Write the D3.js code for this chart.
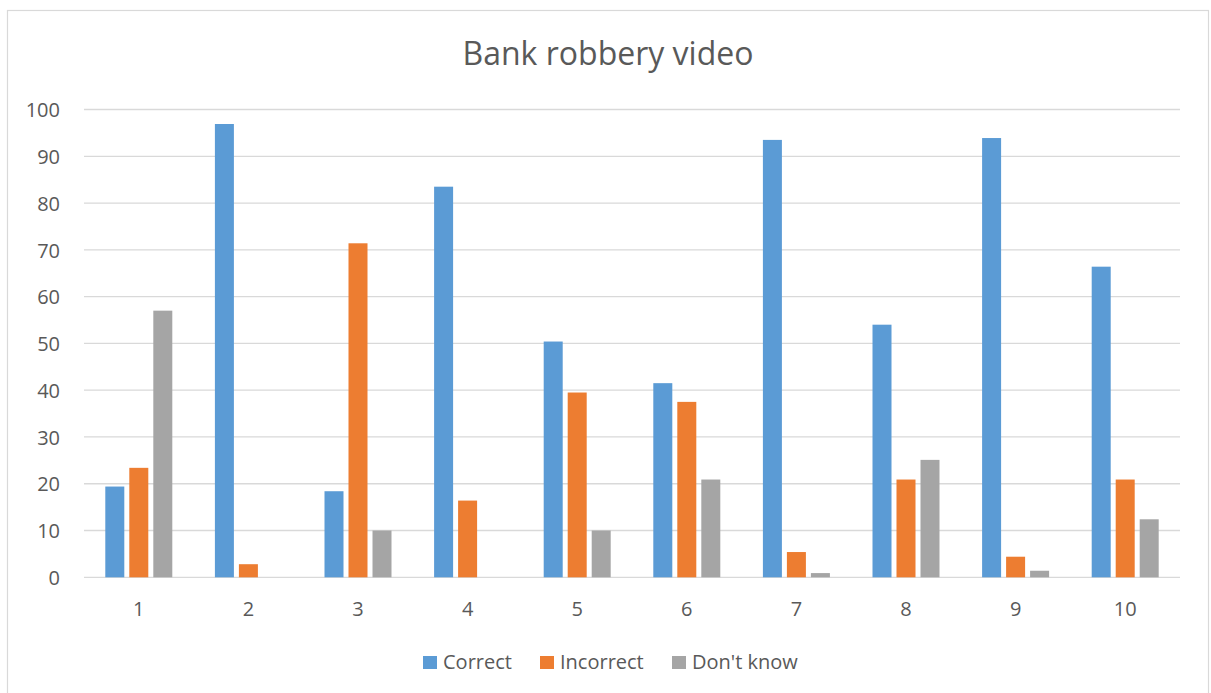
<!DOCTYPE html>
<html>
<head>
<meta charset="utf-8">
<script src="https://cdn.jsdelivr.net/npm/d3@7"></script>
<style>
  html, body { margin: 0; padding: 0; background: #fff; }
  svg { display: block; }
  text { font-family: "Open Sans", "Liberation Sans", sans-serif; fill: #595959; }
</style>
</head>
<body>
<svg id="chart" width="1211" height="693"></svg>
<script>
const categories = ["1","2","3","4","5","6","7","8","9","10"];
const seriesNames = ["Correct","Incorrect","Don't know"];
const correct   = [19.4, 96.9, 18.4, 83.5, 50.4, 41.5, 93.5, 54.0, 93.9, 66.4];
const incorrect = [23.4,  2.8, 71.4, 16.4, 39.5, 37.5,  5.4, 20.9,  4.4, 20.9];
const dontKnow  = [57.0,  0.0, 10.0,  0.0, 10.0, 20.9,  0.9, 25.1,  1.4, 12.4];
const yTicks = [0,10,20,30,40,50,60,70,80,90,100];
const colors = ["#5B9BD5","#ED7D31","#A5A5A5"];
const title = "Bank robbery video";

const seriesValues = [correct, incorrect, dontKnow];
const svg = d3.select("#chart");

// outer chart border
svg.append("rect").attr("x",7.5).attr("y",10.5).attr("width",1201).attr("height",700)
  .attr("fill","none").attr("stroke","#d9d9d9").attr("stroke-width",1.2);

const plot = {left:84, right:1180, top:109.5, bottom:577.3};

const x0 = d3.scaleBand().domain(categories).range([plot.left, plot.right]).padding(0);
const groupW = 67;
const x1 = d3.scaleBand().domain(seriesNames).range([0, groupW]).paddingInner(5/24).paddingOuter(0);
const y = d3.scaleLinear().domain([0,100]).range([plot.bottom, plot.top]);

// gridlines
svg.append("g").selectAll("line").data(yTicks).join("line")
  .attr("x1", plot.left).attr("x2", plot.right)
  .attr("y1", d => y(d)).attr("y2", d => y(d))
  .attr("stroke", "#d9d9d9").attr("stroke-width", 1.3);

// y axis labels
const yAxis = d3.axisLeft(y).tickValues(yTicks).tickSize(0).tickPadding(0);
const gy = svg.append("g").attr("transform", `translate(60,0)`).call(yAxis);
gy.select(".domain").remove();
gy.selectAll("text").attr("font-size", 20).attr("fill","#595959")
  .style("font-family","'Open Sans', sans-serif").attr("dy","0.36em");

// bars
const groups = svg.append("g").selectAll("g").data(categories).join("g")
  .attr("transform", c => `translate(${x0(c) + (x0.bandwidth() - groupW)/2},0)`);
groups.selectAll("rect").data((c,i) => seriesNames.map((s,j) => ({s, v: seriesValues[j][i], j})))
  .join("rect")
  .attr("x", d => x1(d.s))
  .attr("width", x1.bandwidth())
  .attr("y", d => y(d.v))
  .attr("height", d => y(0) - y(d.v))
  .attr("fill", d => colors[d.j]);

// x axis labels
const xAxis = d3.axisBottom(x0).tickSize(0).tickPadding(0);
const gx = svg.append("g").attr("transform", `translate(0,616)`).call(xAxis);
gx.select(".domain").remove();
gx.selectAll("text").attr("font-size", 20).attr("fill","#595959")
  .style("font-family","'Open Sans', sans-serif").attr("y", 0).attr("dy","0");

// title
svg.append("text").attr("x", 608).attr("y", 65).attr("text-anchor","middle")
  .attr("font-size", 32).text(title);

// legend
const legendX = [423, 540, 672];
const lg = svg.append("g").selectAll("g").data(seriesNames).join("g")
  .attr("transform", (d,i) => `translate(${legendX[i]},656)`);
lg.append("rect").attr("width",14).attr("height",13).attr("fill",(d,i)=>colors[i]);
lg.append("text").attr("x",20).attr("y",12.5).attr("font-size",20).text(d=>d);
</script>
</body>
</html>
